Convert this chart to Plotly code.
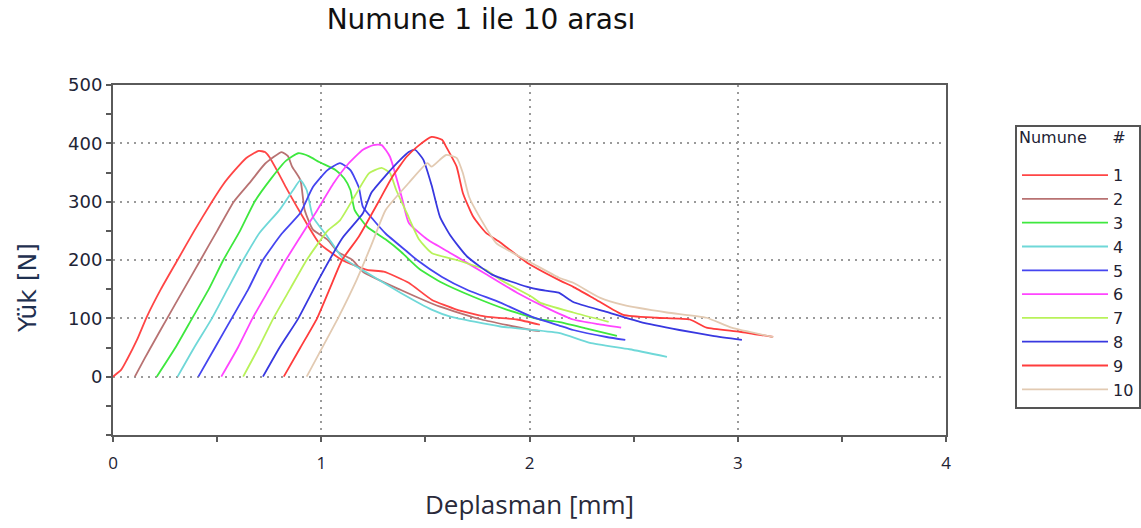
import plotly.graph_objects as go

# ---- data ----
names = ["1", "2", "3", "4", "5", "6", "7", "8", "9", "10"]
colors = ["#ff4545", "#b87272", "#3ee83e", "#6fd8d8", "#4545f0",
          "#ff45ff", "#b8f25a", "#3838e0", "#ff3c3c", "#e2cab2"]

x1 = [0, 0.04, 0.067, 0.115, 0.163, 0.23, 0.31, 0.39, 0.475, 0.53, 0.585, 0.64, 0.70, 0.73, 0.75, 0.79, 0.83, 0.90, 0.99, 1.10, 1.22, 1.30, 1.42, 1.53, 1.65, 1.79, 1.94, 2.05]
y1 = [0, 12, 29, 63, 103, 150, 200, 250, 300, 330, 354, 375, 387, 385, 377, 352, 325, 281, 229, 200, 183, 180, 161, 132, 115, 103, 98, 89]

x2 = [0.105, 0.15, 0.20, 0.26, 0.34, 0.42, 0.50, 0.58, 0.66, 0.73, 0.81, 0.84, 0.86, 0.90, 0.92, 0.96, 1.03, 1.08, 1.15, 1.20, 1.38, 1.57, 1.77, 2.01, 2.05]
y2 = [0, 30, 62, 100, 150, 200, 250, 300, 334, 365, 385, 378, 360, 337, 286, 252, 235, 214, 200, 180, 149, 120, 98, 80, 78]

x3 = [0.21, 0.30, 0.38, 0.46, 0.53, 0.61, 0.68, 0.76, 0.83, 0.89, 0.94, 0.99, 1.07, 1.11, 1.14, 1.16, 1.22, 1.31, 1.38, 1.47, 1.58, 1.73, 1.89, 2.05, 2.14, 2.28, 2.42]
y3 = [0, 50, 100, 150, 200, 250, 300, 340, 370, 383, 378, 368, 354, 340, 320, 286, 257, 235, 215, 185, 161, 137, 115, 98, 94, 82, 70]

x4 = [0.31, 0.39, 0.475, 0.55, 0.625, 0.705, 0.80, 0.865, 0.90, 0.93, 0.96, 1.03, 1.10, 1.22, 1.38, 1.53, 1.62, 1.86, 2.14, 2.29, 2.48, 2.66]
y4 = [0, 50, 100, 150, 200, 247, 286, 320, 337, 320, 274, 240, 205, 178, 144, 115, 103, 86, 75, 58, 47, 34]

x5 = [0.41, 0.49, 0.57, 0.65, 0.72, 0.81, 0.90, 0.96, 1.03, 1.09, 1.14, 1.18, 1.20, 1.25, 1.31, 1.41, 1.46, 1.58, 1.70, 1.86, 2.01, 2.14, 2.21, 2.37, 2.46]
y5 = [0, 50, 100, 150, 200, 245, 281, 325, 354, 366, 354, 325, 291, 269, 245, 215, 200, 171, 149, 127, 103, 88, 80, 68, 63]

x6 = [0.52, 0.60, 0.67, 0.75, 0.83, 0.90, 0.98, 1.06, 1.13, 1.20, 1.25, 1.29, 1.33, 1.36, 1.39, 1.42, 1.51, 1.63, 1.79, 1.94, 2.10, 2.21, 2.33, 2.44]
y6 = [0, 50, 100, 150, 200, 240, 285, 332, 365, 389, 397, 397, 377, 342, 303, 264, 235, 210, 176, 144, 115, 98, 90, 84]

x7 = [0.625, 0.70, 0.77, 0.85, 0.93, 1.03, 1.09, 1.17, 1.23, 1.29, 1.33, 1.36, 1.41, 1.47, 1.53, 1.65, 1.79, 1.86, 2.01, 2.05, 2.21, 2.38]
y7 = [0, 50, 100, 150, 200, 250, 268, 315, 349, 358, 349, 320, 281, 235, 212, 200, 183, 166, 137, 127, 110, 94]

x8 = [0.72, 0.80, 0.89, 0.99, 1.10, 1.20, 1.24, 1.31, 1.38, 1.42, 1.45, 1.49, 1.53, 1.57, 1.62, 1.70, 1.82, 1.99, 2.05, 2.14, 2.21, 2.37, 2.53, 2.72, 2.88, 3.02]
y8 = [0, 50, 100, 168, 237, 280, 315, 345, 372, 385, 389, 372, 328, 274, 242, 206, 175, 154, 149, 144, 128, 111, 94, 80, 70, 63]

x9 = [0.82, 0.90, 0.98, 1.04, 1.10, 1.18, 1.28, 1.34, 1.41, 1.46, 1.53, 1.58, 1.60, 1.65, 1.68, 1.73, 1.79, 1.86, 1.99, 2.14, 2.21, 2.32, 2.45, 2.61, 2.77, 2.85, 3.01, 3.17]
y9 = [0, 50, 100, 150, 200, 240, 303, 342, 377, 394, 411, 406, 394, 360, 315, 274, 247, 230, 195, 166, 154, 132, 106, 101, 98, 84, 77, 68]

x10 = [0.93, 0.99, 1.08, 1.17, 1.24, 1.31, 1.42, 1.51, 1.53, 1.57, 1.60, 1.65, 1.68, 1.71, 1.76, 1.84, 1.89, 2.01, 2.14, 2.21, 2.34, 2.45, 2.66, 2.85, 2.97, 3.17]
y10 = [0, 40, 100, 166, 225, 286, 332, 366, 360, 372, 380, 375, 349, 308, 274, 229, 218, 195, 170, 161, 135, 123, 110, 101, 84, 68]

xs = [x1, x2, x3, x4, x5, x6, x7, x8, x9, x10]
ys = [y1, y2, y3, y4, y5, y6, y7, y8, y9, y10]

x_ticks = [0, 1, 2, 3, 4]
y_ticks = [0, 100, 200, 300, 400, 500]

# ---- figure ----
fig = go.Figure()
for nm, col, xv, yv in zip(names, colors, xs, ys):
    fig.add_trace(go.Scatter(x=xv, y=yv, mode="lines", name=nm,
                             line=dict(color=col, width=1.8, shape="spline", smoothing=0.5)))

axis_col = "#5a5a5a"

fig.update_layout(
    width=1141, height=528,
    margin=dict(l=113, r=195, t=85, b=93),
    paper_bgcolor="white", plot_bgcolor="white",
    title=dict(text="Numune 1 ile 10 arası", x=481 / 1141, xref="container", xanchor="center",
               y=1 - 19 / 528, yref="container", yanchor="middle",
               font=dict(family="DejaVu Sans", size=28, color="#111111")),
    xaxis=dict(range=[0, 4], tickvals=x_ticks, ticktext=[str(v) for v in x_ticks],
               automargin=False,
               showgrid=True, gridcolor="#9a9a9a", griddash="2px,5px", gridwidth=1.5,
               zeroline=False, showline=True, linecolor=axis_col, linewidth=2, mirror=True,
               ticks="outside", ticklen=5, tickwidth=1.5, tickcolor=axis_col,
               minor=dict(dtick=0.5, ticks="outside", ticklen=5, tickwidth=1.5, tickcolor=axis_col, showgrid=False),
               ticklabelstandoff=7,
               tickfont=dict(family="Open Sans", size=17, color="#222233"),
               title=dict(text="Deplasman [mm]", standoff=22,
                          font=dict(family="Open Sans", size=26, color="#2a2a3a"))),
    xaxis2=dict(range=[0, 4], overlaying="x", anchor="y", side="bottom", automargin=False,
                tickvals=x_ticks, showticklabels=False, showgrid=False, zeroline=False, showline=False,
                ticks="inside", ticklen=5, tickwidth=1.5, tickcolor=axis_col,
                minor=dict(dtick=0.5, ticks="inside", ticklen=5, tickwidth=1.5, tickcolor=axis_col, showgrid=False)),
    yaxis=dict(range=[-100, 500], tickvals=y_ticks, ticktext=[str(v) for v in y_ticks],
               automargin=False,
               showgrid=True, gridcolor="#9a9a9a", griddash="2px,5px", gridwidth=1.5,
               zeroline=False, showline=True, linecolor=axis_col, linewidth=2, mirror=True,
               ticks="outside", ticklen=5, tickwidth=1.5, tickcolor=axis_col,
               minor=dict(dtick=50, tick0=0, ticks="outside", ticklen=5, tickwidth=1.5, tickcolor=axis_col, showgrid=False),
               tickfont=dict(family="DejaVu Sans", size=18, color="#1e2436")),
    yaxis2=dict(range=[-100, 500], overlaying="y", anchor="x", side="left", automargin=False,
                tickvals=y_ticks, showticklabels=False, showgrid=False, zeroline=False, showline=False,
                ticks="inside", ticklen=8, tickwidth=1.5, tickcolor=axis_col,
                minor=dict(dtick=50, tick0=0, ticks="inside", ticklen=8, tickwidth=1.5, tickcolor=axis_col, showgrid=False)),
    annotations=[dict(text="Yük [N]", textangle=-90, xref="paper", yref="paper",
                      x=(27 - 113) / 833, y=(435 - 288) / 350, xanchor="center", yanchor="middle",
                      showarrow=False, font=dict(family="DejaVu Sans", size=25, color="#1f3050"))],
    legend=dict(xref="container", yref="paper", x=1015 / 1141, xanchor="left",
                y=(435 - 125) / 350, yanchor="top",
                bgcolor="white", bordercolor="#555555", borderwidth=2,
                itemwidth=86,
                title=dict(text="<span style='font-size:16px'>Numune\u00a0\u00a0\u00a0\u00a0\u00a0#</span><br>\u00a0",
                           font=dict(family="DejaVu Sans", size=12, color="#222233")),
                font=dict(family="DejaVu Sans", size=16, color="#222233")),
    showlegend=True,
)

fig.write_html("out.html", config={"displayModeBar": False},
               post_script="document.body.style.margin='0';document.body.style.padding='0';")
